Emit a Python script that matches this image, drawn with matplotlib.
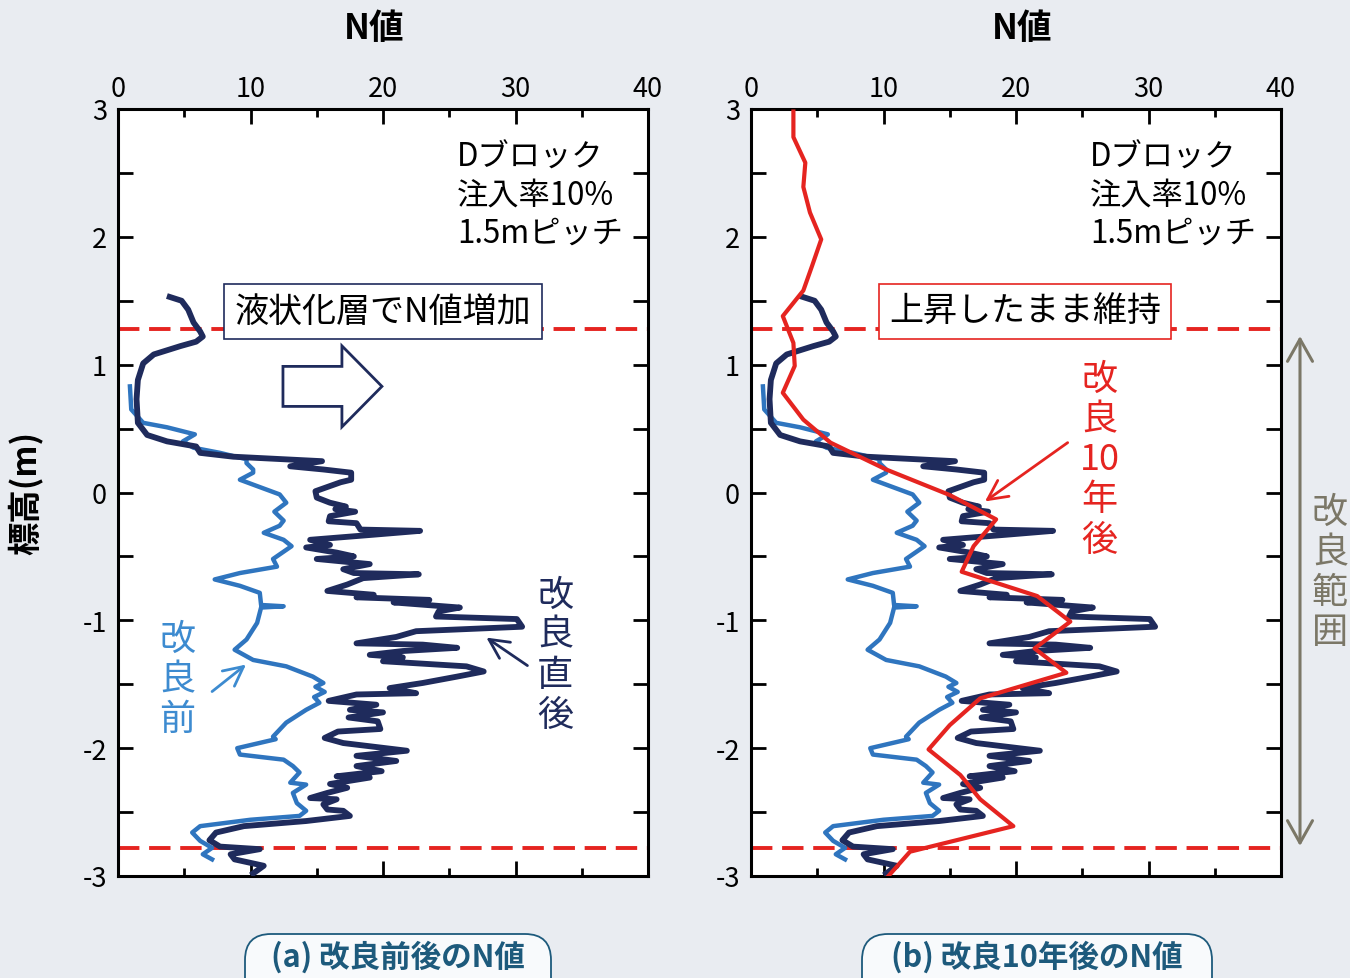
import numpy as np
import matplotlib.pyplot as plt
from matplotlib.patches import FancyArrow, FancyBboxPatch
from matplotlib.ticker import MultipleLocator

plt.rcParams['font.family'] = ['Noto Sans CJK JP', 'DejaVu Sans']
plt.rcParams['axes.unicode_minus'] = False

# 改良前 (標高 m, N値)
before_z = [0.83, 0.65, 0.545, 0.51, 0.455, 0.40, 0.35, 0.31, 0.26, 0.23, 0.18, 0.155,
            0.10, 0.05, -0.015, -0.08, -0.15, -0.22, -0.26, -0.315, -0.37, -0.42, -0.52,
            -0.58, -0.63, -0.68, -0.73, -0.785, -0.88, -0.89, -0.90, -1.02, -1.15, -1.23,
            -1.31, -1.36, -1.44, -1.49, -1.52, -1.56, -1.60, -1.645, -1.70, -1.80, -1.91,
            -1.93, -2.00, -2.05, -2.09, -2.14, -2.19, -2.27, -2.285, -2.35, -2.43, -2.49,
            -2.53, -2.56, -2.61, -2.66, -2.725, -2.78, -2.83, -2.87]
before_n = [0.9, 1.0, 1.9, 3.7, 5.8, 4.9, 5.7, 7.7, 9.7, 9.7, 10.2, 10.2,
            9.2, 10.5, 12.2, 12.7, 11.8, 12.5, 12.2, 11.0, 12.5, 13.1, 11.7,
            12.0, 9.2, 7.3, 9.2, 10.7, 10.8, 12.5, 10.8, 10.5, 9.7, 8.8,
            10.2, 12.7, 14.7, 15.5, 14.9, 15.6, 14.8, 15.2, 14.2, 12.7, 11.7,
            11.9, 9.0, 9.2, 12.5, 13.2, 13.7, 13.0, 14.2, 13.2, 13.5, 14.2,
            13.7, 10.0, 6.2, 5.6, 6.2, 7.1, 6.4, 7.1]

# 改良直後
after_z = [1.53, 1.50, 1.43, 1.33, 1.26, 1.22, 1.18, 1.145, 1.08, 1.01, 0.88, 0.73,
           0.545, 0.45, 0.40, 0.36, 0.31, 0.28, 0.245, 0.205, 0.18, 0.155, 0.10, 0.08,
           0.01, -0.04, -0.08, -0.11, -0.13, -0.15, -0.185, -0.225, -0.24, -0.29, -0.30,
           -0.33, -0.37, -0.41, -0.43, -0.47, -0.50, -0.52, -0.56, -0.60, -0.63, -0.64,
           -0.67, -0.72, -0.77, -0.80, -0.82, -0.84, -0.86, -0.90, -0.93, -0.97, -0.99,
           -1.02, -1.05, -1.085, -1.13, -1.18, -1.19, -1.215, -1.24, -1.27, -1.29, -1.32,
           -1.36, -1.40, -1.44, -1.49, -1.53, -1.57, -1.58, -1.63, -1.66, -1.70, -1.72,
           -1.76, -1.79, -1.85, -1.87, -1.92, -1.96, -2.02, -2.06, -2.10, -2.14, -2.18,
           -2.22, -2.23, -2.28, -2.31, -2.35, -2.39, -2.40, -2.44, -2.48, -2.49, -2.53,
           -2.57, -2.61, -2.66, -2.72, -2.77, -2.79, -2.83, -2.87, -2.92, -2.98]
after_n = [3.9, 4.8, 5.3, 5.7, 6.2, 6.4, 5.9, 4.7, 2.7, 1.9, 1.5, 1.4,
           1.5, 2.2, 3.7, 5.9, 6.2, 8.7, 15.4, 13.0, 15.5, 17.6, 17.6, 16.8,
           14.9, 15.0, 16.0, 17.2, 16.4, 17.9, 16.0, 15.9, 18.0, 18.3, 22.8,
           19.3, 14.5, 16.0, 14.2, 16.5, 17.8, 15.0, 19.0, 17.0, 17.8, 22.7,
           18.5, 17.3, 15.8, 19.3, 18.0, 23.5, 20.8, 25.8, 24.2, 24.0, 30.1,
           30.3, 30.5, 22.5, 21.0, 18.0, 23.0, 25.6, 21.5, 19.0, 21.5, 20.0,
           26.3, 27.6, 25.6, 23.0, 20.5, 22.5, 18.0, 15.9, 19.5, 17.5, 20.0,
           17.4, 19.6, 19.8, 16.6, 15.6, 17.0, 21.8, 18.0, 21.0, 18.0, 19.9,
           16.5, 19.0, 16.0, 17.3, 15.8, 14.5, 16.5, 15.5, 15.8, 17.0, 17.5,
           14.2, 9.5, 7.4, 6.9, 7.7, 10.7, 8.5, 8.8, 11.0, 10.2]

# 改良10年後
y10_z = [2.98, 2.78, 2.58, 2.39, 2.19, 1.98, 1.77, 1.58, 1.38, 1.17, 0.99, 0.78,
         0.57, 0.39, 0.18, -0.02, -0.21, -0.42, -0.62, -0.81, -1.01, -1.22, -1.41,
         -1.61, -1.82, -2.01, -2.21, -2.40, -2.61, -2.81, -3.02]
y10_n = [3.2, 3.2, 4.1, 3.95, 4.45, 5.3, 4.6, 3.95, 2.4, 3.2, 3.3, 2.4,
         3.95, 6.0, 10.2, 15.0, 18.5, 16.8, 15.9, 21.6, 24.1, 21.4, 23.8,
         17.3, 15.0, 13.4, 15.8, 17.3, 19.8, 12.0, 10.2]

layer_top = 1.28
layer_bot = -2.78

NAVY = '#1f2b5c'
BLUE = '#2f75bf'
LBLUE = '#3d8bd0'
RED = '#e52420'
GRAY = '#7b7767'
BG = '#e9ecf1'
CAP = '#1d5a7c'

fig = plt.figure(figsize=(13.5, 9.79), dpi=100, facecolor=BG)
ax1 = fig.add_axes([118 / 1350, 1 - 877 / 979, 530 / 1350, 767 / 979])
ax2 = fig.add_axes([751 / 1350, 1 - 877 / 979, 530 / 1350, 767 / 979])

for ax in (ax1, ax2):
    ax.plot(before_n, before_z, color=BLUE, lw=3.2, zorder=3)
    ax.plot(after_n, after_z, color=NAVY, lw=4.2, zorder=4)
    for zl in (layer_top, layer_bot):
        ax.axhline(zl, color=RED, lw=2.8, ls=(0, (5.5, 2.5)), zorder=2)
    ax.set_xlim(0, 40)
    ax.set_ylim(-3, 3)
    ax.xaxis.set_major_locator(MultipleLocator(10))
    ax.xaxis.set_minor_locator(MultipleLocator(5))
    ax.yaxis.set_major_locator(MultipleLocator(1))
    ax.yaxis.set_minor_locator(MultipleLocator(0.5))
    ax.tick_params(which='both', direction='in', top=True, bottom=True,
                   left=True, right=True, width=2, labeltop=True, labelbottom=False)
    ax.tick_params(which='major', length=10.8, labelsize=19.5, pad=5)
    ax.tick_params(axis='y', which='major', pad=8)
    ax.tick_params(axis='x', which='minor', length=5.8)
    ax.tick_params(axis='y', which='minor', length=10.8)
    for s in ax.spines.values():
        s.set_linewidth(2.2)
    ax.text(25.6, 2.63, 'Dブロック', fontsize=22.5, va='center', ha='left')
    ax.text(25.6, 2.33, '注入率10%', fontsize=22.5, va='center', ha='left')
    ax.text(25.6, 2.03, '1.5mピッチ', fontsize=22.5, va='center', ha='left')

ax2.plot(y10_n, y10_z, color=RED, lw=3, zorder=5)

# 左図の注記
ax1.text(20.0, 1.416, '液状化層でN値増加', fontsize=24.5, ha='center', va='center', zorder=6,
         bbox=dict(boxstyle='square,pad=0.3', fc='white', ec=NAVY, lw=1.2))
ax1.add_patch(FancyArrow(12.45, 0.83, 7.47, 0, width=0.313, head_width=0.634,
                         head_length=3.02, length_includes_head=True,
                         fc='white', ec=NAVY, lw=2, zorder=6))
ax1.text(33.0, -1.27, '改\n良\n直\n後', fontsize=26, color=NAVY, ha='center', va='center',
         linespacing=1.15)
ax1.text(4.5, -1.46, '改\n良\n前', fontsize=26, color=LBLUE, ha='center', va='center',
         linespacing=1.15)
ax1.annotate('', xy=(9.66, -1.346), xytext=(7.1, -1.557),
             arrowprops=dict(arrowstyle='->,head_length=0.7,head_width=0.35', color=LBLUE,
                             lw=2, shrinkA=0, shrinkB=0, mutation_scale=20))
ax1.annotate('', xy=(27.8, -1.135), xytext=(30.9, -1.354),
             arrowprops=dict(arrowstyle='->,head_length=0.7,head_width=0.35', color=NAVY,
                             lw=2, shrinkA=0, shrinkB=0, mutation_scale=20))

# 右図の注記
ax2.text(20.7, 1.416, '上昇したまま維持', fontsize=24.5, ha='center', va='center', zorder=6,
         bbox=dict(boxstyle='square,pad=0.3', fc='white', ec=RED, lw=1.2))
ax2.text(26.3, 0.26, '改\n良\n10\n年\n後', fontsize=26, color=RED, ha='center', va='center',
         linespacing=1.15)
ax2.annotate('', xy=(17.66, -0.07), xytext=(23.9, 0.39),
             arrowprops=dict(arrowstyle='->,head_length=0.7,head_width=0.35', color=RED,
                             lw=2, shrinkA=0, shrinkB=0, mutation_scale=20))

# 図全体の文字 (ピクセル座標)
ov = fig.add_axes([0, 0, 1, 1])
ov.set_xlim(0, 1350)
ov.set_ylim(979, 0)
ov.axis('off')

ov.text(374, 28, 'N値', fontsize=25, fontweight='bold', ha='center', va='center')
ov.text(1022, 28, 'N値', fontsize=25, fontweight='bold', ha='center', va='center')
ov.text(25, 493, '標高(m)', fontsize=24, fontweight='bold', ha='center', va='center',
        rotation=90)

ov.annotate('', xy=(1300, 337), xytext=(1300, 847),
            arrowprops=dict(arrowstyle='<->,head_length=0.8,head_width=0.45', color=GRAY,
                            lw=2.2, shrinkA=0, shrinkB=0, mutation_scale=20))
ov.text(1330, 573, '改\n良\n範\n囲', fontsize=26, color=GRAY, ha='center', va='center',
        linespacing=1.15)

for x0, w, label in ((245, 306, '(a) 改良前後のN値'), (862, 350, '(b) 改良10年後のN値')):
    ov.add_patch(FancyBboxPatch((x0, 935), w, 70, boxstyle='round,pad=0,rounding_size=26',
                                fc='#f8fafc', ec=CAP, lw=1.3))
    ov.text(x0 + w / 2, 957, label, fontsize=22, fontweight='bold', color=CAP,
            ha='center', va='center')

fig.savefig('out.png', dpi=100, facecolor=BG)
